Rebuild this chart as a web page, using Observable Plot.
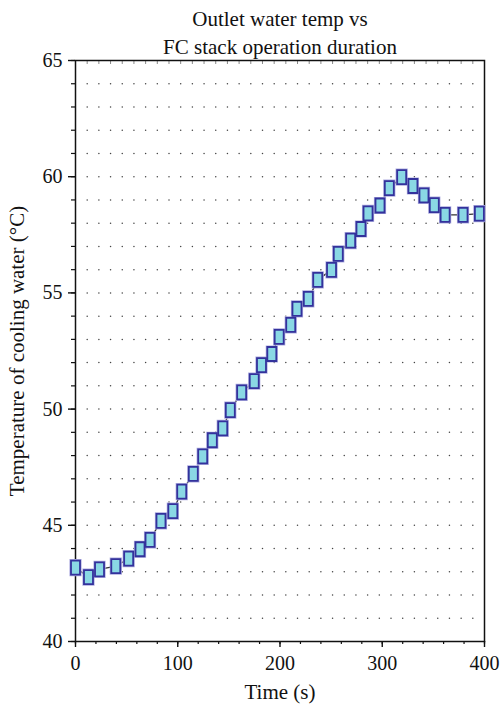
<!DOCTYPE html>
<html>
<head>
<meta charset="utf-8">
<script src="https://cdn.jsdelivr.net/npm/d3@7"></script>
<script src="https://cdn.jsdelivr.net/npm/@observablehq/plot@0.6"></script>
<style>
  html, body { margin: 0; padding: 0; background: #fff; }
  #chart svg { display: block; }
</style>
</head>
<body>
<div id="chart"></div>
<script>
// Outlet water temperature of the FC stack over operating time
const timeS = [0, 12.7, 23.5, 39.4, 52, 63.1, 72.9, 83.6, 95.2, 103.9, 115.2, 124.4, 133.8, 144, 151.4,
  162.5, 174.8, 181.9, 192, 199.2, 210.5, 216.6, 227.7, 236.9, 250.4, 257, 269.1, 279.2, 286.1,
  297.8, 306.9, 319, 330, 340.8, 350.9, 361.5, 379, 395];
const tempC = [43.18, 42.77, 43.1, 43.24, 43.57, 43.97, 44.37, 45.19, 45.61, 46.45, 47.21, 47.97, 48.66,
  49.17, 49.96, 50.72, 51.2, 51.89, 52.37, 53.11, 53.62, 54.31, 54.74, 55.56, 55.99, 56.68, 57.25,
  57.75, 58.42, 58.76, 59.51, 59.98, 59.6, 59.2, 58.78, 58.36, 58.36, 58.41];

const xMajorTicks = [0, 100, 200, 300, 400];
const yMajorTicks = [40, 45, 50, 55, 60, 65];
const titleText = "Outlet water temp vs\nFC stack operation duration";
const xLabel = "Time (s)";
const yLabel = "Temperature of cooling water (°C)";

const data = timeS.map((t, i) => ({t, temp: tempC[i]}));

// dotted background grid: 35 columns across the time span, one row per degree
const gridCols = d3.range(1, 35).map(k => 400 * k / 35);
const gridRows = d3.range(41, 65);
const gridDots = gridRows.flatMap(r => gridCols.map(c => ({t: c, temp: r})));

// tall rectangular marker
const tallBox = {
  draw(context) {
    context.rect(-4.5, -7, 9, 14);
  }
};

const serif = "'Liberation Serif', 'DejaVu Serif', serif";
const noLabel = () => "";

const chart = Plot.plot({
  width: 500,
  height: 708,
  marginLeft: 75,
  marginRight: 16,
  marginTop: 60,
  marginBottom: 67,
  style: {fontFamily: serif, fontSize: "20px", color: "#111", background: "#fff"},
  x: {domain: [0, 400]},
  y: {domain: [40, 65]},
  marks: [
    Plot.dot(gridDots, {x: "t", y: "temp", r: 0.75, fill: "#444", stroke: null}),
    Plot.axisX({ticks: d3.range(0, 401, 20), tickSize: 3, tickFormat: noLabel, label: null, strokeWidth: 1.2}),
    Plot.axisX({ticks: xMajorTicks, tickSize: 6, tickPadding: 8, label: null, strokeWidth: 1.4, fontSize: 20}),
    Plot.axisX({anchor: "top", ticks: gridCols, tickSize: 3, tickFormat: noLabel, label: null, stroke: "#888", dy: 3}),
    Plot.axisY({ticks: d3.range(40, 66, 1), tickSize: 4, tickFormat: noLabel, label: null, strokeWidth: 1.2}),
    Plot.axisY({ticks: yMajorTicks, tickSize: 7, tickPadding: 6, label: null, strokeWidth: 1.4, fontSize: 20}),
    Plot.frame({stroke: "#111", strokeWidth: 1.5}),
    Plot.line(data, {x: "t", y: "temp", stroke: "#333", strokeWidth: 1.3}),
    Plot.dot(data, {x: "t", y: "temp", symbol: tallBox, fill: "none", stroke: "#aeacdf", strokeWidth: 3.2}),
    Plot.dot(data, {x: "t", y: "temp", symbol: tallBox, fill: "#8ad8e4", stroke: "#33329c", strokeWidth: 1.8}),
    Plot.text([titleText], {frameAnchor: "top", textAnchor: "middle", lineAnchor: "bottom", dy: -7, lineHeight: 1.3, fontSize: 21, fill: "#111"}),
    Plot.text([xLabel], {frameAnchor: "bottom", textAnchor: "middle", lineAnchor: "middle", dy: 51, fontSize: 21, fill: "#111"}),
    Plot.text([yLabel], {frameAnchor: "left", textAnchor: "middle", rotate: -90, lineAnchor: "middle", dx: -58, fontSize: 21, fill: "#111"})
  ]
});

document.getElementById("chart").appendChild(chart);
</script>
</body>
</html>
